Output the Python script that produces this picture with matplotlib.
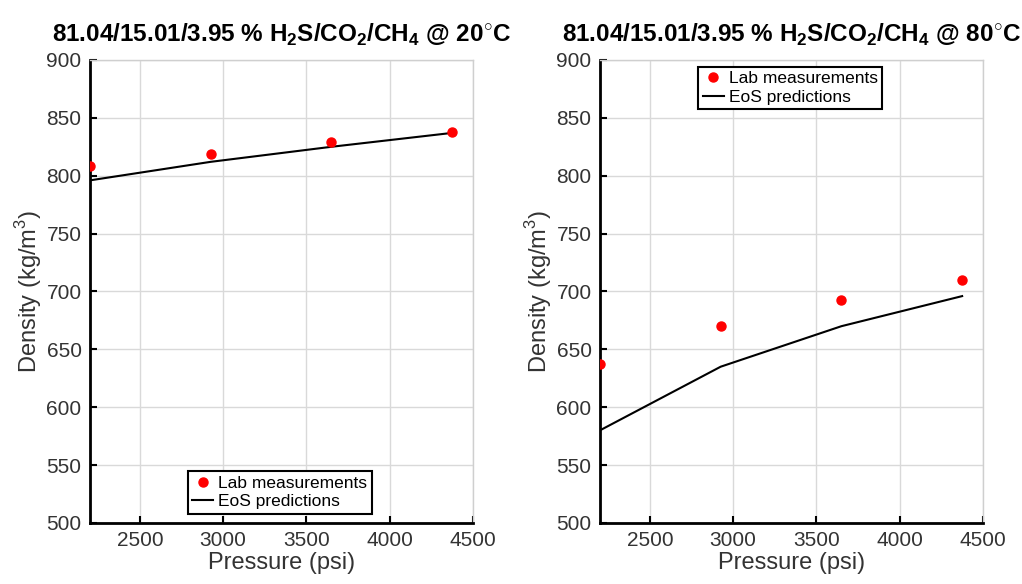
import matplotlib
matplotlib.use("Agg")
import matplotlib.pyplot as plt

plt.rcParams['font.family'] = ['Liberation Sans', 'DejaVu Sans']
plt.rcParams['mathtext.fontset'] = 'custom'
plt.rcParams['mathtext.rm'] = 'Liberation Sans'
plt.rcParams['mathtext.bf'] = 'Liberation Sans:bold'

# data
pressure = [2200, 2925, 3650, 4375]
lab_20 = [808, 819, 829, 838]
eos_20 = [796, 812, 825, 837]
lab_80 = [637, 670, 693, 710]
eos_80 = [580, 635, 670, 696]

titles = [r'81.04/15.01/3.95 % H$_\mathbf{2}$S/CO$_\mathbf{2}$/CH$_\mathbf{4}$ @ 20$^{\circ}$C',
          r'81.04/15.01/3.95 % H$_\mathbf{2}$S/CO$_\mathbf{2}$/CH$_\mathbf{4}$ @ 80$^{\circ}$C']
xticks = [2500, 3000, 3500, 4000, 4500]
yticks = [500, 550, 600, 650, 700, 750, 800, 850, 900]

fig = plt.figure(figsize=(10.22, 5.84), dpi=100)
ax1 = fig.add_axes([0.088, 0.1045, 0.3748, 0.7928])
ax2 = fig.add_axes([0.587, 0.1045, 0.3748, 0.7928])

panels = [(ax1, lab_20, eos_20, titles[0], 'lower center', (0.496, 0.02)),
          (ax2, lab_80, eos_80, titles[1], 'upper center', (0.497, 0.985))]

for ax, lab, eos, title, loc, anchor in panels:
    ax.plot(pressure, lab, 'o', color='red', markersize=6.5, label='Lab measurements', zorder=3)
    ax.plot(pressure, eos, '-', color='black', lw=1.5, label='EoS predictions', zorder=2)
    ax.set_xlim(2200, 4500)
    ax.set_ylim(500, 900)
    ax.set_xticks(xticks)
    ax.set_yticks(yticks)
    ax.grid(True, color='#d9d9d9', lw=1)
    ax.set_axisbelow(True)
    for s in ['top', 'right']:
        ax.spines[s].set_color('#cfcfcf')
        ax.spines[s].set_linewidth(1)
    for s in ['left', 'bottom']:
        ax.spines[s].set_color('black')
        ax.spines[s].set_linewidth(2)
    ax.tick_params(direction='in', length=5, width=1.5, labelsize=15, colors='black',
                   labelcolor='#333333', pad=6)
    ax.set_title(title, fontsize=17.5, fontweight='bold', pad=13)
    ax.set_xlabel('Pressure (psi)', fontsize=17, color='#333333', labelpad=1)
    ax.set_ylabel(r'Density (kg/m$^3$)', fontsize=17, color='#333333', labelpad=2)
    leg = ax.legend(loc=loc, bbox_to_anchor=anchor, fontsize=12.5, fancybox=False,
                    framealpha=1, edgecolor='black', handlelength=1.2, handletextpad=0.3,
                    borderpad=0.25, labelspacing=0.2, borderaxespad=0)
    leg.get_frame().set_linewidth(1.5)

fig.savefig('out.png', dpi=100)
